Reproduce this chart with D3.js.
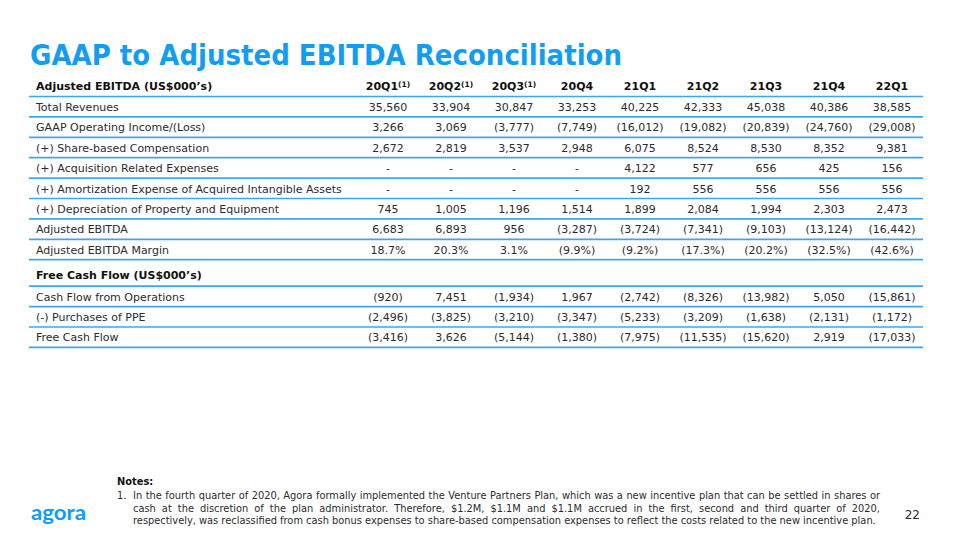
<!DOCTYPE html>
<html><head><meta charset="utf-8">
<script src="https://cdn.jsdelivr.net/npm/d3@7"></script>
<style>body{margin:0;background:#fff}svg{display:block}</style>
</head><body>
<script>
// ---- data ----
const quarters = ["20Q1","20Q2","20Q3","20Q4","21Q1","21Q2","21Q3","21Q4","22Q1"];
const quarterNotes = [true,true,true,false,false,false,false,false,false];
const ebitdaTitle = "Adjusted EBITDA (US$000\u2019s)";
const fcfTitle = "Free Cash Flow (US$000\u2019s)";
const ebitdaLabels = ["Total Revenues","GAAP Operating Income/(Loss)","(+) Share-based Compensation","(+) Acquisition Related Expenses","(+) Amortization Expense of Acquired Intangible Assets","(+) Depreciation of Property and Equipment","Adjusted EBITDA","Adjusted EBITDA Margin"];
const totalRevenues = [35560,33904,30847,33253,40225,42333,45038,40386,38585];
const gaapOpIncome = [3266,3069,-3777,-7749,-16012,-19082,-20839,-24760,-29008];
const shareBasedComp = [2672,2819,3537,2948,6075,8524,8530,8352,9381];
const acquisitionExp = [null,null,null,null,4122,577,656,425,156];
const amortization = [null,null,null,null,192,556,556,556,556];
const depreciation = [745,1005,1196,1514,1899,2084,1994,2303,2473];
const adjEbitda = [6683,6893,956,-3287,-3724,-7341,-9103,-13124,-16442];
const adjEbitdaMargin = [18.7,20.3,3.1,-9.9,-9.2,-17.3,-20.2,-32.5,-42.6];
const fcfLabels = ["Cash Flow from Operations","(-) Purchases of PPE","Free Cash Flow"];
const cashFlowOps = [-920,7451,-1934,1967,-2742,-8326,-13982,5050,-15861];
const purchasesPPE = [-2496,-3825,-3210,-3347,-5233,-3209,-1638,-2131,-1172];
const freeCashFlow = [-3416,3626,-5144,-1380,-7975,-11535,-15620,2919,-17033];
const titleText = "GAAP to Adjusted EBITDA Reconciliation";
const notesLines = [
 "In the fourth quarter of 2020, Agora formally implemented the Venture Partners Plan, which was a new incentive plan that can be settled in shares or",
 "cash at the discretion of the plan administrator. Therefore, $1.2M, $1.1M and $1.1M accrued in the first, second and third quarter of 2020,",
 "respectively, was reclassified from cash bonus expenses to share-based compensation expenses to reflect the costs related to the new incentive plan."
];
const pageNumber = "22";

// ---- drawing ----
const W = 960, H = 540;
const blue = "#139df2", lineBlue = "#3aa7f0", txt = "#2b2b2b";
const font = "'DejaVu Sans', Verdana, sans-serif";
const svg = d3.select("body").append("svg").attr("width", W).attr("height", H)
  .style("font-family", font);

// title
const t = svg.append("text").attr("x", 30).attr("y", 65)
  .attr("fill", blue).attr("font-weight", "bold").attr("font-size", 28)
  .style("font-family", "'DejaVu Sans', Tahoma, sans-serif").text(titleText);
t.attr("textLength", 592).attr("lengthAdjust", "spacingAndGlyphs");

const x = d3.scalePoint().domain(quarters).range([388, 892]);
const fmtN = d3.format(",");
const fmtVal = v => v == null ? "-" : (v < 0 ? "(" + fmtN(-v) + ")" : fmtN(v));
const fmtPct = v => v < 0 ? "(" + (-v).toFixed(1) + "%)" : v.toFixed(1) + "%";

const rowStep = 20.4;
const yLine = d3.scaleLinear().domain([0, 1]).range([96.5, 96.5 + rowStep]);
const fcfHeaderLine = 286.2;
const yLine2 = d3.scaleLinear().domain([0, 1]).range([fcfHeaderLine, fcfHeaderLine + rowStep]);

const lines = svg.append("g");
function hline(y) {
  lines.append("line").attr("x1", 29).attr("x2", 923).attr("y1", y).attr("y2", y)
    .attr("stroke", lineBlue).attr("stroke-width", 1.7);
}

// header row
const hdr = svg.append("g").attr("font-size", 11).attr("font-weight", "bold").attr("fill", "#111");
hdr.append("text").attr("x", 36).attr("y", yLine(0) - 6.5).text(ebitdaTitle);
hdr.selectAll("text.q").data(quarters).join("text").attr("class", "q")
  .attr("x", d => x(d)).attr("y", yLine(0) - 6.5).attr("text-anchor", "middle")
  .each(function (d, i) {
    const s = d3.select(this);
    s.append("tspan").text(d);
    if (quarterNotes[i]) s.append("tspan").attr("font-size", 7.5).attr("dy", -3.5).text("(1)");
  });
hline(yLine(0));

const ebitdaRows = [totalRevenues, gaapOpIncome, shareBasedComp, acquisitionExp, amortization, depreciation, adjEbitda, adjEbitdaMargin];
const body = svg.append("g").attr("font-size", 11).attr("fill", txt);
ebitdaRows.forEach((vals, r) => {
  const yl = yLine(r + 1);
  body.append("text").attr("x", 36).attr("y", yl - 6).text(ebitdaLabels[r]);
  const f = r === 7 ? fmtPct : fmtVal;
  body.append("g").selectAll("text").data(vals).join("text")
    .attr("x", (d, i) => x(quarters[i])).attr("y", yl - 6).attr("text-anchor", "middle")
    .text(d => f(d));
  hline(yl);
});

// FCF section
hdr.append("text").attr("x", 36).attr("y", fcfHeaderLine - 7).text(fcfTitle);
hline(fcfHeaderLine);
const fcfRows = [cashFlowOps, purchasesPPE, freeCashFlow];
fcfRows.forEach((vals, r) => {
  const yl = yLine2(r + 1);
  body.append("text").attr("x", 36).attr("y", yl - 6).text(fcfLabels[r]);
  body.append("g").selectAll("text").data(vals).join("text")
    .attr("x", (d, i) => x(quarters[i])).attr("y", yl - 6).attr("text-anchor", "middle")
    .text(d => fmtVal(d));
  hline(yl);
});

// notes
const notes = svg.append("g").attr("font-size", 9.85).attr("fill", txt);
notes.append("text").attr("x", 117).attr("y", 485).attr("font-weight", "bold").attr("fill", "#111").text("Notes:");
notes.append("text").attr("x", 117).attr("y", 499).text("1.");
const noteY = [499, 511.5, 524];
notesLines.forEach((ln, i) => {
  const el = notes.append("text").attr("x", 133).attr("y", noteY[i]).text(ln);
  if (i < 2) {
    const nat = el.node().getComputedTextLength();
    const spaces = (ln.match(/ /g) || []).length;
    const target = 880 - 133;
    el.attr("word-spacing", (target - nat) / spaces);
  }
});

// page number
svg.append("text").attr("x", 920).attr("y", 519).attr("text-anchor", "end")
  .attr("font-size", 12).attr("fill", txt).text(pageNumber);

// logo
svg.append("text").attr("x", 31).attr("y", 520).attr("fill", "#099dfd")
  .attr("font-size", 21).attr("font-weight", "bold").style("font-family", "Lato, sans-serif")
  .attr("textLength", 55).attr("lengthAdjust", "spacingAndGlyphs").text("agora");
</script>
</body></html>
